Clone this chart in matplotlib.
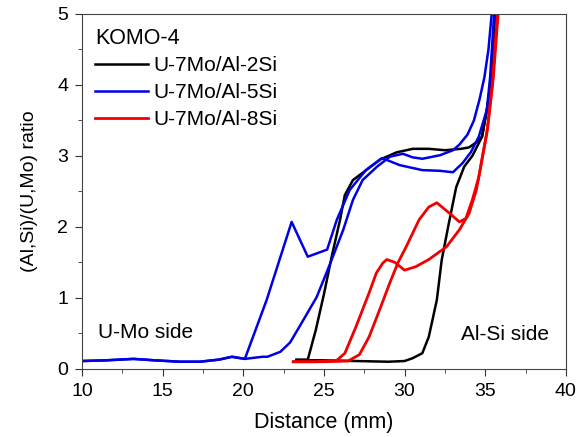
import matplotlib.pyplot as plt
from matplotlib.ticker import MultipleLocator

plt.rcParams['font.family'] = ['Liberation Sans', 'DejaVu Sans']

# Al-2Si profiles (two sides of the interaction layer)
x_2si_a = [23.3, 24.0, 24.5, 25.0, 25.5, 26.0, 26.3, 26.8, 27.8, 28.5, 29.5, 30.5, 31.5,
           32.5, 33.5, 34.0, 34.5, 34.8, 35.1, 35.4, 35.6]
y_2si_a = [0.13, 0.13, 0.55, 1.05, 1.6, 2.1, 2.45, 2.66, 2.83, 2.95, 3.05, 3.1, 3.1,
           3.08, 3.1, 3.12, 3.2, 3.27, 3.65, 4.1, 5.0]
x_2si_b = [23.3, 25.0, 27.0, 29.0, 30.0, 30.5, 31.1, 31.5, 32.0, 32.3, 32.7, 33.2, 33.7,
           34.2, 34.8, 35.1, 35.4, 35.6]
y_2si_b = [0.12, 0.12, 0.11, 0.1, 0.11, 0.15, 0.22, 0.45, 0.97, 1.53, 2.0, 2.56, 2.85,
           3.0, 3.27, 3.65, 4.1, 5.0]

# Al-5Si profiles
x_5si_a = [10.0, 11.5, 13.2, 14.5, 16.1, 17.3, 18.5, 19.3, 20.1, 21.45, 23.0, 24.0, 25.2,
           25.8, 26.6, 27.6, 28.6, 29.7, 30.5, 31.1, 32.2, 33.0, 33.6, 34.1, 34.6, 35.1,
           35.3, 35.55]
y_5si_a = [0.11, 0.12, 0.14, 0.12, 0.1, 0.1, 0.13, 0.17, 0.14, 0.97, 2.07, 1.58, 1.68,
           2.1, 2.52, 2.8, 2.97, 2.87, 2.83, 2.8, 2.79, 2.77, 2.9, 3.05, 3.27, 3.65,
           4.1, 5.0]
x_5si_b = [10.0, 11.5, 13.2, 14.5, 16.1, 17.3, 18.5, 19.3, 20.1, 21.2, 21.5, 22.3, 22.9,
           23.5, 24.55, 25.4, 26.2, 26.8, 27.4, 28.3, 29.1, 29.9, 30.5, 31.1, 32.2,
           33.0, 33.4, 33.9, 34.3, 34.65, 34.95, 35.2, 35.4]
y_5si_b = [0.11, 0.12, 0.14, 0.12, 0.1, 0.1, 0.13, 0.17, 0.14, 0.17, 0.17, 0.24, 0.37,
           0.6, 1.01, 1.49, 1.96, 2.38, 2.66, 2.85, 2.99, 3.03, 2.98, 2.96, 3.01,
           3.08, 3.16, 3.3, 3.5, 3.8, 4.11, 4.5, 5.0]

# Al-8Si profiles
x_8si_a = [23.1, 24.5, 25.8, 26.3, 27.0, 27.8, 28.25, 28.65, 28.9, 29.4, 30.0, 30.7,
           31.5, 32.6, 33.4, 34.0, 34.45, 35.1, 35.45, 35.75]
y_8si_a = [0.1, 0.1, 0.12, 0.22, 0.6, 1.07, 1.35, 1.49, 1.54, 1.5, 1.39, 1.44,
           1.54, 1.72, 1.96, 2.19, 2.52, 3.32, 4.03, 5.0]
x_8si_b = [23.1, 25.0, 26.5, 27.2, 27.8, 28.45, 29.1, 29.6, 30.1, 30.9, 31.5, 32.0,
           32.8, 33.4, 33.8, 34.2, 34.6, 35.15, 35.5, 35.8]
y_8si_b = [0.1, 0.1, 0.11, 0.2, 0.45, 0.83, 1.22, 1.5, 1.72, 2.1, 2.28, 2.34,
           2.19, 2.07, 2.12, 2.38, 2.7, 3.4, 4.1, 5.0]

fig = plt.figure(figsize=(5.81, 4.37), dpi=100)
ax = fig.add_axes([0.141, 0.156, 0.833, 0.812])

ax.plot(x_2si_a, y_2si_a, color='black', lw=1.8, label='U-7Mo/Al-2Si')
ax.plot(x_2si_b, y_2si_b, color='black', lw=1.8)
ax.plot(x_5si_a, y_5si_a, color='#0000e6', lw=1.8, label='U-7Mo/Al-5Si')
ax.plot(x_5si_b, y_5si_b, color='#0000e6', lw=1.8)
ax.plot(x_8si_a, y_8si_a, color='#f00000', lw=2.0, label='U-7Mo/Al-8Si')
ax.plot(x_8si_b, y_8si_b, color='#f00000', lw=2.0)

ax.set_xlim(10, 40)
ax.set_ylim(0, 5)
ax.xaxis.set_major_locator(MultipleLocator(5))
ax.xaxis.set_minor_locator(MultipleLocator(2.5))
ax.yaxis.set_major_locator(MultipleLocator(1))
ax.yaxis.set_minor_locator(MultipleLocator(0.5))
ax.tick_params(which='both', direction='out', labelsize=14, color='#333333')
ax.tick_params(which='major', length=5, pad=5)
ax.tick_params(which='minor', length=3)
for s in ax.spines.values():
    s.set_color('#444444')

ax.set_xlabel('Distance (mm)', fontsize=15.5, labelpad=9)
ax.set_ylabel('(Al,Si)/(U,Mo) ratio', fontsize=14, labelpad=14)

ax.text(11.0, 0.51, 'U-Mo side', fontsize=15, va='center')
ax.text(33.5, 0.48, 'Al-Si side', fontsize=15, va='center')

leg = ax.legend(title='KOMO-4', loc='upper left', frameon=False, fontsize=15,
                title_fontsize=15.5, handlelength=2.5, handletextpad=0.3,
                labelspacing=0.38, alignment='left', borderaxespad=0.35,
                borderpad=0.3)

fig.savefig('out.png', dpi=100)
